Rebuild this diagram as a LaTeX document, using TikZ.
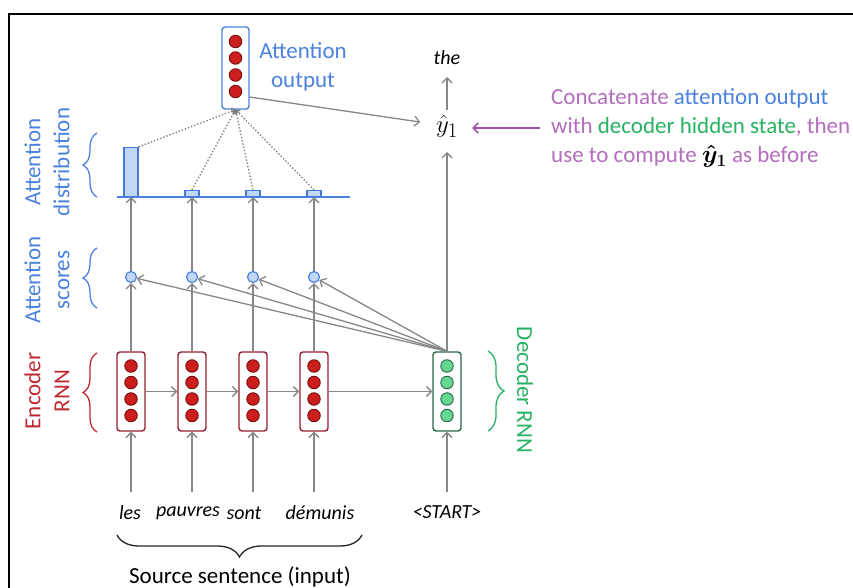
\documentclass[tikz,border=0pt]{standalone}
\usepackage{fontspec}
\setmainfont{Carlito}
\usepackage{amsmath}
\usetikzlibrary{arrows.meta,decorations.pathreplacing}
\definecolor{arrgray}{RGB}{135,135,135}
\definecolor{lblue}{RGB}{75,130,222}
\definecolor{bfill}{RGB}{192,216,246}
\definecolor{bedge}{RGB}{70,120,215}
\definecolor{ered}{RGB}{192,40,50}
\definecolor{eedge}{RGB}{150,30,50}
\definecolor{dotred}{RGB}{205,30,30}
\definecolor{dotredge}{RGB}{120,15,15}
\definecolor{dgreen}{RGB}{40,178,100}
\definecolor{gfill}{RGB}{100,215,145}
\definecolor{gedge}{RGB}{40,105,70}
\definecolor{purp}{RGB}{180,110,190}
\definecolor{parrow}{RGB}{160,80,170}
\newcommand\lbf{\fontsize{23}{29}\selectfont}
\newcommand\wdf{\fontsize{20}{24}\selectfont\itshape}
\begin{document}
\begin{tikzpicture}[x=1pt,y=-1pt,
  arr/.style={draw=arrgray, line width=1.3pt, -{Straight Barb[length=5pt,width=10pt]}},
  dotarr/.style={draw=arrgray!90!black, line width=1.3pt, dotted, -{Straight Barb[length=3pt,width=6pt]}},
  encbox/.style={draw=eedge, line width=1.4pt, fill=white, rounded corners=3pt, minimum width=28pt, minimum height=79pt, inner sep=0pt},
  decbox/.style={draw=gedge, line width=1.4pt, fill=white, rounded corners=3pt, minimum width=28pt, minimum height=79pt, inner sep=0pt},
  outbox/.style={draw=lblue, line width=1.4pt, fill=white, rounded corners=3pt, minimum width=27pt, minimum height=82pt, inner sep=0pt},
  reddot/.style={circle, draw=dotredge, line width=0.9pt, fill=dotred, minimum size=12.5pt, inner sep=0pt},
  greendot/.style={circle, draw=gedge, line width=0.9pt, fill=gfill, minimum size=12.5pt, inner sep=0pt},
  score/.style={circle, draw=lblue, line width=1.2pt, fill=bfill, minimum size=11pt, inner sep=0pt},
  bar/.style={draw=bedge, line width=1.2pt, fill=bfill, minimum width=14pt, inner sep=0pt, anchor=south},
  brc/.style={decorate, line width=1.3pt},
  lbl/.style={font=\lbf, align=center, inner sep=0pt}
]
\useasboundingbox (0,0) rectangle (853,588);
\fill[white] (0,0) rectangle (853,588);
\draw[line width=2pt] (9,588) -- (9,14) -- (853,14);

% encoder columns
\foreach \i/\x in {1/131,2/192,3/253,4/314} {
  \node[encbox] (e\i) at (\x,391.5) {};
  \foreach \k/\yy in {1/366,2/382.5,3/399,4/415.5}
    \node[reddot] (e\i d\k) at (\x,\yy) {};
  \node[score] (s\i) at (\x,277) {};
  \coordinate (b\i) at (\x,197);
  \coordinate (i\i) at (\x,492);
}
% decoder
\node[decbox] (dec) at (447,391.5) {};
\foreach \k/\yy in {1/366,2/382.5,3/399,4/415.5}
  \node[greendot] (dd\k) at (447,\yy) {};

% attention output
\node[outbox] (attout) at (235.5,68) {};
\foreach \k/\yy in {1/41.5,2/58,3/75,4/91.5}
  \node[reddot] (ad\k) at (235.5,\yy) {};
\node[lbl, text=lblue] (attlbl) at (303,67) {Attention\\output};

% distribution
\coordinate (bl) at (117,197);
\coordinate (br) at (350,197);
\draw[draw=lblue, line width=1.4pt] (bl) -- (br);
\node[bar, minimum height=49pt] (bar1) at (b1) {};
\node[bar, minimum height=6pt] (bar2) at (b2) {};
\node[bar, minimum height=6pt] (bar3) at (b3) {};
\node[bar, minimum height=6pt] (bar4) at (b4) {};

\draw[dotarr] (bar1.north east) -- (attout.south);
\draw[dotarr] (bar2.north) -- (attout.south);
\draw[dotarr] (bar3.north) -- (attout.south);
\draw[dotarr] (bar4.north) -- (attout.south);

% words
\node[font=\wdf] (w1) at (130,513) {les};
\node[font=\wdf] (w2) at (188,513) {pauvres};
\node[font=\wdf] (w3) at (244,513) {sont};
\node[font=\wdf] (w4) at (320,513) {démunis};
\node[font=\wdf] (wst) at (447,512) {<START>};
\coordinate (ist) at (447,492);

% output side
\node[inner sep=0pt] (yhat) at (447,126) {\fontsize{32}{36}\selectfont$\hat{y}_1$};
\node[font=\wdf] (the) at (447,58) {the};

% arrows
\foreach \i in {1,2,3,4} {
  \draw[arr] (i\i) -- (e\i);
  \draw[arr] (e\i) -- (s\i);
  \draw[arr] (s\i) -- (b\i);
  \draw[arr] (dec.north) -- (s\i);
}
\draw[arr] (e1) -- (e2);
\draw[arr] (e2) -- (e3);
\draw[arr] (e3) -- (e4);
\draw[arr] (e4) -- (dec);
\draw[arr] (ist) -- (dec);
\draw[arr, shorten >=26pt] (dec.north) -- (yhat.center);
\draw[arr, shorten <=16pt, shorten >=19pt] (yhat.center) -- (the.center);
\draw[arr, shorten >=27pt] ([yshift=-29pt]attout.east) -- (yhat.center);

% note
\node[anchor=west, align=left, inner sep=0pt, font=\fontsize{23}{29}\selectfont, text=purp] (note) at (551,128)
  {Concatenate \textcolor{lblue}{attention output}\\
   with \textcolor{dgreen}{decoder hidden state}, then\\
   use to compute \textcolor{black}{\boldmath$\hat{y}_1$} as before};
\draw[draw=parrow, line width=1.6pt, -{Straight Barb[length=5pt,width=10pt]}, shorten <=11pt, shorten >=25pt] (note.west) -- (note.west -| yhat.center);

% left labels and braces
\node[lbl, rotate=90, text=lblue] (ldist) at (47,162) {Attention\\distribution};
\node[lbl, rotate=90, text=lblue] (lscore) at (47,280) {Attention\\scores};
\node[lbl, rotate=90, text=ered] (lenc) at (47,391) {Encoder\\RNN};
\node[lbl, rotate=-90, text=dgreen] (ldec) at (525,390) {Decoder RNN};

\draw[brc, draw=lblue, decoration={brace, amplitude=14pt}] (97,197) -- (97,133);
\draw[brc, draw=lblue, decoration={brace, amplitude=14pt}] (97,308) -- (97,248);
\draw[brc, draw=ered, decoration={brace, amplitude=14pt}] (97,432) -- (97,353);
\draw[brc, draw=dgreen, decoration={brace, amplitude=16pt}] (488,351) -- (488,431);
\draw[brc, draw=black!85, decoration={brace, amplitude=22pt}] (362,535) -- (117,535);
\node[lbl] (src) at (240,577) {Source sentence (input)};
\end{tikzpicture}
\end{document}
